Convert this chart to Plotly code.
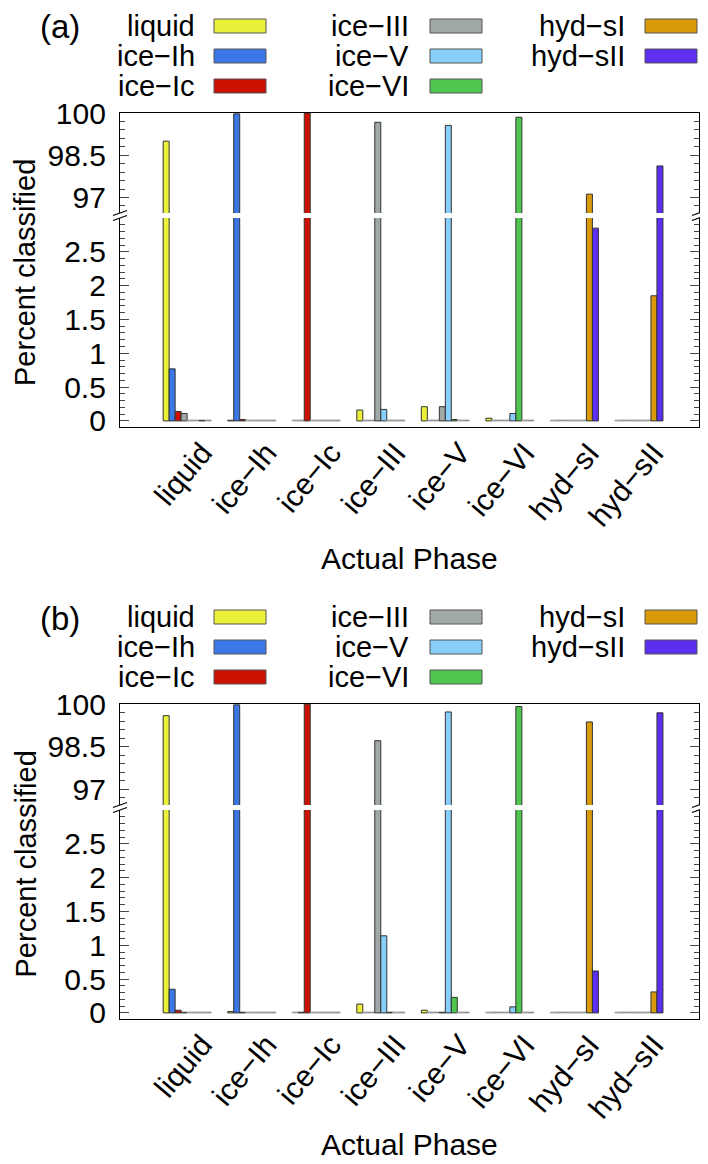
import plotly.graph_objects as go

# actual phase (groups on the x axis) and classified phase (bar series)
phases = ["liquid", "ice−Ih", "ice−Ic", "ice−III", "ice−V", "ice−VI", "hyd−sI", "hyd−sII"]

# panel (a): percent classified as each phase, one list per classified phase
a_liquid = [99.00, 0.01, 0, 0.16, 0.21, 0.04, 0, 0]
a_iceIh = [0.77, 99.97, 0, 0, 0, 0, 0, 0]
a_iceIc = [0.14, 0.02, 100.0, 0, 0, 0, 0, 0]
a_iceIII = [0.11, 0, 0, 99.67, 0.21, 0, 0, 0]
a_iceV = [0, 0, 0, 0.17, 99.56, 0.11, 0, 0]
a_iceVI = [0, 0, 0, 0, 0.02, 99.85, 0, 0]
a_hydsI = [0.01, 0, 0, 0, 0, 0, 97.12, 1.85]
a_hydsII = [0, 0, 0, 0, 0, 0, 2.85, 98.12]

# panel (b)
b_liquid = [99.59, 0.02, 0, 0.13, 0.04, 0, 0, 0]
b_iceIh = [0.35, 99.97, 0.01, 0, 0, 0, 0, 0]
b_iceIc = [0.04, 0.01, 99.99, 0, 0, 0, 0, 0]
b_iceIII = [0.01, 0, 0, 98.71, 0.01, 0, 0, 0]
b_iceV = [0, 0, 0, 1.14, 99.72, 0.09, 0, 0]
b_iceVI = [0, 0, 0, 0.01, 0.23, 99.91, 0, 0]
b_hydsI = [0, 0, 0, 0, 0, 0, 99.37, 0.31]
b_hydsII = [0, 0, 0, 0, 0, 0, 0.62, 99.69]

upper_ticks = [97, 98.5, 100]
lower_ticks = [0, 0.5, 1, 1.5, 2, 2.5]

colors = ["#ebf03a", "#3b78e7", "#cc1100", "#a1a9a8", "#87cefa", "#4fc74f", "#d99a0a", "#5b2ef0"]
FONT = "Liberation Sans, Arial, sans-serif"

panel_a = [a_liquid, a_iceIh, a_iceIc, a_iceIII, a_iceV, a_iceVI, a_hydsI, a_hydsII]
panel_b = [b_liquid, b_iceIh, b_iceIc, b_iceIII, b_iceV, b_iceVI, b_hydsI, b_hydsII]

# the page body has an 8px margin, so the figure is made 8px smaller
OFF = 8
W, H = 708 - OFF, 1164 - OFF
# plotting box in page pixels
L, R, T, B = 120, 699, 113, 1019
def px(x):
    return (x - L) / (R - L)
def py(y):
    return (B - y) / (B - T)

# top, upper-bottom, lower-top, bottom (pixels) for each panel
panels = [("(a)", panel_a, 113, 213, 218, 427), ("(b)", panel_b, 704, 805, 810, 1019)]

fig = go.Figure()
layout = dict(width=W, height=H,
              margin=dict(l=L - OFF, r=W - (R - OFF), t=T - OFF, b=H - (B - OFF)),
              paper_bgcolor="white", plot_bgcolor="white", showlegend=False,
              barmode="group", bargap=0.257, bargroupgap=0,
              font=dict(family=FONT, size=30, color="black"))
annotations = []
shapes = []

yaxis_common = dict(ticks="inside", ticklen=9, tickwidth=1, tickcolor="#444",
                    showline=True, linecolor="black", linewidth=1.3, mirror="allticks",
                    showgrid=False, zeroline=False, ticklabelstandoff=7,
                    tickfont=dict(size=30))
xrange = [-1.04, 7.93]

for p, (tag, data, top, ub, lt, bot) in enumerate(panels):
    xu = "x%d" % (2 * p + 1)
    xl = "x%d" % (2 * p + 2)
    yu = "y%d" % (2 * p + 1)
    yl = "y%d" % (2 * p + 2)
    for key, ya in ((xu, yu), (xl, yl)):
        for i, vals in enumerate(data):
            shown = [v if v > 0 else 0.012 for v in vals]
            edge = ["#333" if v > 0 else "#9a9a9a" for v in vals]
            fig.add_trace(go.Bar(x=phases, y=shown, name=phases[i], xaxis=key, yaxis=ya,
                                 marker=dict(color=colors[i], line=dict(color=edge, width=1)),
                                 hoverinfo="skip"))
    n = lambda s: s.replace("x", "xaxis").replace("y", "yaxis").replace("xaxis1", "xaxis").replace("yaxis1", "yaxis")
    layout[n(xu)] = dict(domain=[0, 1], anchor=yu, side="top", range=xrange, showline=True,
                         linecolor="black", linewidth=1.3, ticks="", showticklabels=False,
                         showgrid=False, zeroline=False, type="category")
    layout[n(xl)] = dict(domain=[0, 1], anchor=yl, side="bottom", range=xrange, showline=True,
                         linecolor="black", linewidth=1.3, ticks="", showticklabels=True,
                         tickangle=-50, ticklabelshift=15, ticklabelstandoff=-5,
                         showgrid=False, zeroline=False, type="category",
                         tickfont=dict(size=30))
    layout[n(yu)] = dict(yaxis_common, domain=[py(ub), py(top)], anchor=xu, range=[96.45, 100],
                         tickvals=upper_ticks, ticktext=["%g" % t for t in upper_ticks],
                         minor=dict(ticks="inside", dtick=0.3, tick0=97, ticklen=5, tickcolor="#444"))
    layout[n(yl)] = dict(yaxis_common, domain=[py(bot), py(lt)], anchor=xl, range=[-0.09, 3.0],
                         tickvals=lower_ticks, ticktext=["%g" % t for t in lower_ticks],
                         minor=dict(ticks="inside", dtick=0.1, tick0=0, ticklen=5, tickcolor="#444"))

    # panel letter, axis titles
    annotations.append(dict(text=tag, x=px(60), y=py(top - 86), xref="paper", yref="paper",
                            showarrow=False, font=dict(size=33), xanchor="center", yanchor="middle"))
    annotations.append(dict(text="Percent classified", x=px(25), y=py((top + bot) / 2 + 3),
                            xref="paper", yref="paper", showarrow=False, textangle=-90,
                            font=dict(size=29), xanchor="center", yanchor="middle"))
    annotations.append(dict(text="Actual Phase", x=0.5, y=py(min(bot + 131, 1144)), xref="paper",
                            yref="paper", showarrow=False, font=dict(size=30),
                            xanchor="center", yanchor="middle"))

    # axis break marks
    for xb in (L, R):
        for yb in (ub, lt):
            shapes.append(dict(type="line", xref="paper", yref="paper",
                               x0=px(xb - 7), y0=py(yb + 2.5), x1=px(xb + 7), y1=py(yb - 2.5),
                               line=dict(color="black", width=1.3)))

    # legend: three columns, text to the left of the swatch
    text_right = [197, 411, 627]
    sw_left = [214, 430, 645]
    for i, name in enumerate(phases):
        col, row = i // 3, i % 3
        yc = top - 87 + 30 * row
        annotations.append(dict(text=name, x=px(text_right[col]), y=py(yc), xref="paper", yref="paper",
                                showarrow=False, xanchor="right", yanchor="middle", font=dict(size=29)))
        shapes.append(dict(type="rect", xref="paper", yref="paper",
                           x0=px(sw_left[col]), x1=px(sw_left[col] + 52), y0=py(yc + 7), y1=py(yc - 7),
                           fillcolor=colors[i], line=dict(color="#555", width=1)))

layout["annotations"] = annotations
layout["shapes"] = shapes
fig.update_layout(**layout)
fig.write_html("out.html")
